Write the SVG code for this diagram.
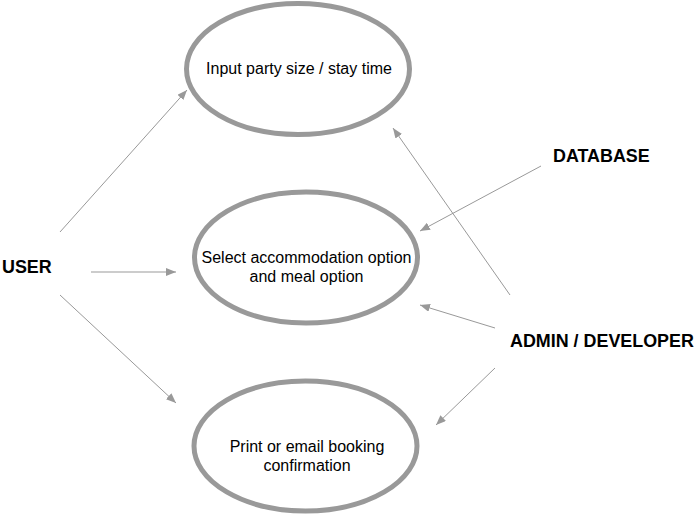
<svg xmlns="http://www.w3.org/2000/svg" width="695" height="516" viewBox="0 0 695 516">
<style>
.uc ellipse{fill:#fff;stroke:#999;stroke-width:5}
.uc text{font-family:"Liberation Sans",Arial,Helvetica,sans-serif;font-size:16px;fill:#000;text-anchor:middle}
.actor text{font-family:"Liberation Sans",Arial,Helvetica,sans-serif;font-size:17.9px;font-weight:bold;fill:#000}
#connectors line{stroke:#999;stroke-width:1;fill:none;marker-end:url(#ah)}
</style>
<defs>
<marker id="ah" markerUnits="userSpaceOnUse" markerWidth="10" markerHeight="8" refX="10" refY="4" orient="auto" viewBox="0 0 10 8">
<path d="M0,0 L10,4 L0,8 z" fill="#999"/>
</marker>
</defs>
<rect width="695" height="516" fill="#fff"/>
<g id="connectors">
<line x1="60" y1="232" x2="187" y2="90"/>
<line x1="91" y1="272" x2="176" y2="272"/>
<line x1="60" y1="295" x2="176" y2="403"/>
<line x1="541" y1="166" x2="420" y2="231"/>
<line x1="510" y1="295" x2="393" y2="128"/>
<line x1="495" y1="328" x2="420" y2="305"/>
<line x1="495" y1="368" x2="436" y2="425"/>
</g>
<g id="uc-input" class="uc">
<ellipse cx="298" cy="69" rx="111.5" ry="65.5"/>
<text x="299" y="74">Input party size / stay time</text>
</g>
<g id="uc-select" class="uc">
<ellipse cx="306" cy="257.5" rx="111.5" ry="65.5"/>
<text x="306.5" y="263">Select accommodation option</text>
<text x="306.5" y="282">and meal option</text>
</g>
<g id="uc-print" class="uc">
<ellipse cx="305.5" cy="446" rx="111.5" ry="65"/>
<text x="307" y="452">Print or email booking</text>
<text x="307" y="471">confirmation</text>
</g>
<g id="actor-user" class="actor">
<text x="2" y="273">USER</text>
</g>
<g id="actor-database" class="actor">
<text x="553" y="162">DATABASE</text>
</g>
<g id="actor-admin" class="actor">
<text x="510" y="347">ADMIN / DEVELOPER</text>
</g>
</svg>
